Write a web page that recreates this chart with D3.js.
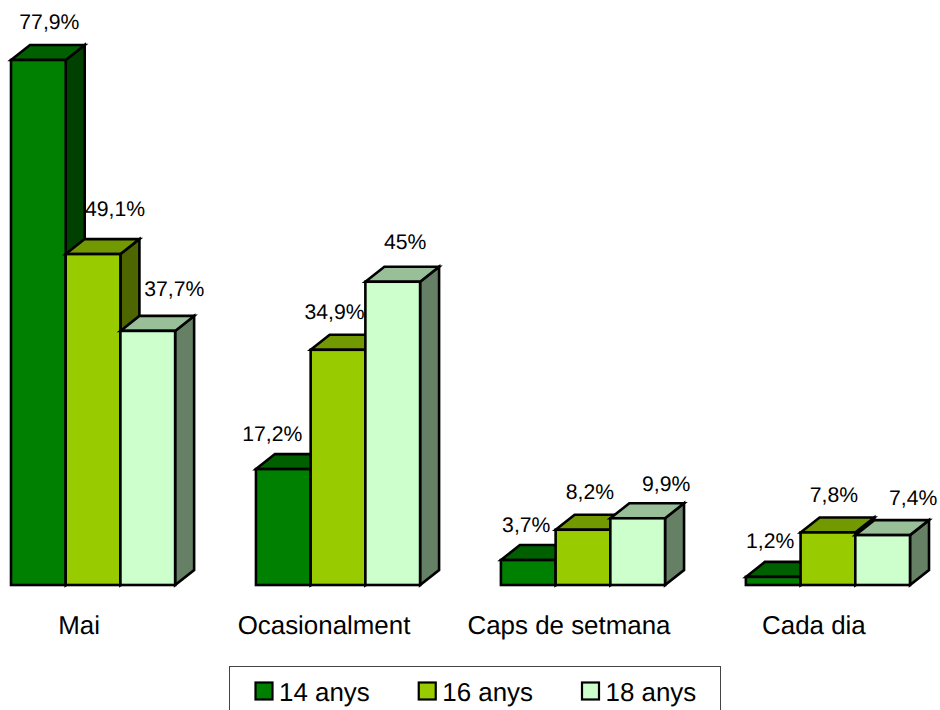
<!DOCTYPE html>
<html><head><meta charset="utf-8">
<script src="https://cdn.jsdelivr.net/npm/d3@7"></script>
<style>html,body{margin:0;padding:0;background:#fff;overflow:hidden}svg{display:block}text{font-family:"Liberation Sans",Arial,sans-serif;fill:#000;text-rendering:geometricPrecision}</style>
</head><body><svg id="c" width="940" height="710"></svg>
<script>
const categories = ["Mai","Ocasionalment","Caps de setmana","Cada dia"];
const seriesNames = ["14 anys","16 anys","18 anys"];
const seriesColors = ["#008000","#99CC00","#CCFFCC"];
const values14 = [77.9,17.2,3.7,1.2];
const values16 = [49.1,34.9,8.2,7.8];
const values18 = [37.7,45,9.9,7.4];
const labels14 = ["77,9%","17,2%","3,7%","1,2%"];
const labels16 = ["49,1%","34,9%","8,2%","7,8%"];
const labels18 = ["37,7%","45%","9,9%","7,4%"];
const allValues = [values14,values16,values18];
const allLabels = [labels14,labels16,labels18];
// per-label nudges [dx, dy] from the bar's top centre
const nudge14 = [[11,-31],[-11,-28],[-2,-28],[-3,-29]];
const nudge16 = [[22,-38],[-3.5,-31],[7,-31],[6,-30]];
const nudge18 = [[26.5,-35],[12.5,-33],[28.5,-27],[30.5,-30]];
const nudges = [nudge14,nudge16,nudge18];

const svg = d3.select("#c");
const x0 = d3.scaleBand().domain(categories).range([11,910]).paddingInner(0.33).paddingOuter(0);
const x1 = d3.scaleBand().domain(seriesNames).range([0,x0.bandwidth()]);
const y = d3.scaleLinear().domain([0,77.9]).range([585,60]);
const dx = 19, dy = -15;
const shade = (c,k)=>{const r=d3.rgb(c);return d3.rgb(r.r*k,r.g*k,r.b*k).formatHex();};
const sw = 2.6;
const poly = pts => pts.map(p=>p.join(",")).join(" ");

categories.forEach((cat)=>{
  const g = svg.append("g").attr("stroke","#000").attr("stroke-width",sw).attr("stroke-linejoin","miter");
  seriesNames.forEach((s,si)=>{
    const v = allValues[si][categories.indexOf(cat)], c = seriesColors[si];
    const l = x0(cat)+x1(s), r = l+x1.bandwidth(), t = y(v), b = y(0);
    g.append("polygon").attr("fill",shade(c,0.5)).attr("points",poly([[r,t],[r+dx,t+dy],[r+dx,b+dy],[r,b]]));
    g.append("polygon").attr("fill",shade(c,0.75)).attr("points",poly([[l,t],[l+dx,t+dy],[r+dx,t+dy],[r,t]]));
    g.append("rect").attr("fill",c).attr("x",l).attr("y",t).attr("width",x1.bandwidth()).attr("height",b-t);
  });
});
categories.forEach((cat,ci)=>{
  seriesNames.forEach((s,si)=>{
    const [nx,ny] = nudges[si][ci];
    svg.append("text").attr("x",x0(cat)+x1(s)+x1.bandwidth()/2+nx).attr("y",y(allValues[si][ci])+ny)
      .attr("text-anchor","middle").attr("font-size",21.2).text(allLabels[si][ci]);
  });
  svg.append("text").attr("x",x0(cat)+x0.bandwidth()/2-14).attr("y",634)
    .attr("text-anchor","middle").attr("font-size",25.9).text(cat);
});
// legend
svg.append("rect").attr("x",229.5).attr("y",666.5).attr("width",491).attr("height",60).attr("fill","#fff").attr("stroke","#444").attr("stroke-width",1);
const lx = d3.scalePoint().domain(seriesNames).range([255.5,582]);
seriesNames.forEach((s,i)=>{
  svg.append("rect").attr("x",lx(s)).attr("y",682.5).attr("width",17).attr("height",17).attr("fill",seriesColors[i]).attr("stroke","#000").attr("stroke-width",2.2);
  svg.append("text").attr("x",lx(s)+23.5).attr("y",700.5).attr("font-size",25.9).text(s);
});
</script></body></html>
